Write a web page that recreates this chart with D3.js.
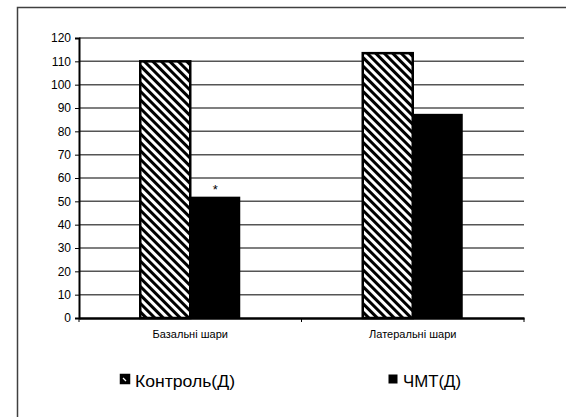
<!DOCTYPE html>
<html><head><meta charset="utf-8">
<script src="https://cdn.jsdelivr.net/npm/d3@7"></script>
<style>body{margin:0;background:#fff}svg{display:block}</style>
</head><body>
<script>
const categories = ["Базальні шари", "Латеральні шари"];
const seriesNames = ["Контроль(Д)", "ЧМТ(Д)"];
const controlValues = [110, 113.5];
const tbiValues = [52, 87.5];
const yTicks = [0,10,20,30,40,50,60,70,80,90,100,110,120];
const markers = ["*", ""]; // significance marks above ЧМТ bars

(function(){
const W = 566, H = 417;
const FONT = "Liberation Sans, Arial, sans-serif";
const svg = d3.select("body").append("svg").attr("width", W).attr("height", H);
const defs = svg.append("defs");
const pat = defs.append("pattern").attr("id","hatch").attr("patternUnits","userSpaceOnUse")
  .attr("width",6).attr("height",6).attr("patternTransform","rotate(-45)");
pat.append("rect").attr("width",6).attr("height",6).attr("fill","#fff");
pat.append("rect").attr("x",0).attr("width",3).attr("height",6).attr("fill","#000");

// outer frame (extends past right/bottom edges)
svg.append("rect").attr("x",17.5).attr("y",7.5).attr("width",600).attr("height",500)
  .attr("fill","none").attr("stroke","#404040").attr("stroke-width",1.5);

const pLeft = 79, pRight = 524, pTop = 38, pBottom = 318;
const x0 = d3.scaleBand().domain(categories).range([pLeft,pRight]).paddingInner(0).paddingOuter(0);
const x1 = d3.scaleBand().domain(seriesNames).range([0,100]);
const y = d3.scaleLinear().domain([0,120]).range([pBottom,pTop]);

// gridlines
svg.append("g").selectAll("line").data(yTicks.filter(d=>d>0)).join("line")
  .attr("x1",pLeft).attr("x2",pRight).attr("y1",d=>y(d)).attr("y2",d=>y(d))
  .attr("stroke","#555").attr("stroke-width",1.5);

// y axis
const ya = svg.append("g").attr("transform",`translate(${pLeft},0)`)
  .call(d3.axisLeft(y).tickValues(yTicks).tickSize(4).tickPadding(4));
ya.select(".domain").attr("stroke","#000").attr("stroke-width",2);
ya.selectAll(".tick line").attr("stroke","#000");
ya.selectAll("text").attr("font-family",FONT).attr("font-size",12).attr("fill","#000");

const data = categories.map((c,i)=>({cat:c, vals:[controlValues[i], tbiValues[i]], mark:markers[i]}));
const groups = svg.append("g").selectAll("g").data(data).join("g")
  .attr("transform",d=>`translate(${x0(d.cat)+x0.bandwidth()/2-50},0)`);
groups.selectAll("rect").data(d=>d.vals.map((v,j)=>({s:seriesNames[j],v,j}))).join("rect")
  .attr("x",d=>x1(d.s)).attr("width",x1.bandwidth())
  .attr("y",d=>y(d.v)).attr("height",d=>pBottom-y(d.v))
  .attr("fill",d=>d.j===0?"url(#hatch)":"#000")
  .attr("stroke","#000").attr("stroke-width",d=>d.j===0?2.5:0);
groups.append("text").attr("x",x1(seriesNames[1])+x1.bandwidth()/2)
  .attr("y",d=>y(d.vals[1])-3).attr("text-anchor","middle")
  .attr("font-family",FONT).attr("font-size",13).text(d=>d.mark);

// x axis
const xa = svg.append("g").attr("transform",`translate(0,${pBottom})`)
  .call(d3.axisBottom(x0).tickSize(0).tickPadding(12));
xa.select(".domain").attr("stroke","#000").attr("stroke-width",2.5);
xa.selectAll("text").attr("font-family",FONT).attr("font-size",11).attr("fill","#000");
// category separator ticks
svg.append("g").selectAll("line").data([pLeft, x0(categories[1]), pRight]).join("line")
  .attr("x1",d=>d).attr("x2",d=>d).attr("y1",pBottom).attr("y2",pBottom+4).attr("stroke","#000");

// legend
const legX = [120, 388];
const leg = svg.append("g").selectAll("g").data(seriesNames).join("g")
  .attr("transform",(d,i)=>`translate(${legX[i]},374)`);
leg.append("rect").attr("width",9).attr("height",9).attr("x",0.5).attr("y",0.5)
  .attr("fill","#000").attr("stroke","#000").attr("stroke-width",(d,i)=>i===0?1.5:0);
leg.filter((d,i)=>i===0).append("line").attr("x1",3).attr("y1",4).attr("x2",6).attr("y2",7)
  .attr("stroke","#fff").attr("stroke-width",1.3);
leg.append("text").attr("x",(d,i)=>i===0?15:15).attr("y",13)
  .attr("font-family",FONT).attr("font-size",16)
  .attr("textLength",(d,i)=>i===0?100:58).attr("lengthAdjust","spacingAndGlyphs")
  .text(d=>d);
})();
</script>
</body></html>
